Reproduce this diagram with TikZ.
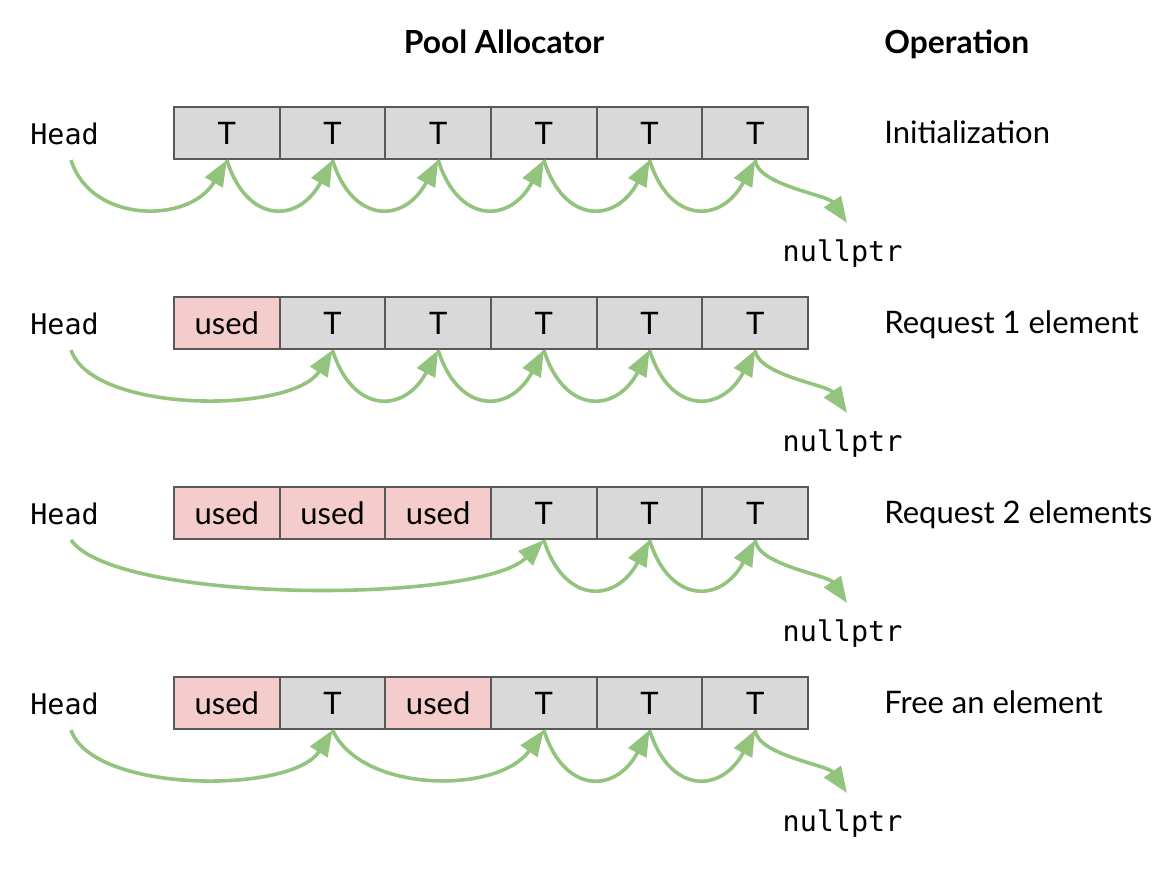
\documentclass[tikz,border=0pt]{standalone}
\usepackage{fontspec}
\setmainfont{Lato}
\newfontfamily\monofont{DejaVu Sans Mono}
\usetikzlibrary{arrows.meta}
\definecolor{arrowgreen}{HTML}{93C47D}
\definecolor{cellgray}{HTML}{D9D9D9}
\definecolor{cellpink}{HTML}{F4CCCC}
\definecolor{cellborder}{HTML}{595959}
\begin{document}
\begin{tikzpicture}[x=0.5pt,y=-0.5pt,
  cellbox/.style={draw=cellborder, line width=1pt, minimum width=52.835pt, minimum height=26pt, inner sep=0pt, text height=11.1pt, text depth=0pt, font=\fontsize{15.5pt}{18pt}\selectfont},
  cell0/.style={cellbox, fill=cellgray},
  cell1/.style={cellbox, fill=cellpink},
  monolabel/.style={inner sep=0pt, font=\monofont\fontsize{14.2pt}{17pt}\selectfont},
  oplabel/.style={inner sep=0pt, anchor=base west, font=\fontsize{15.5pt}{18pt}\selectfont},
  titlelabel/.style={inner sep=0pt, font=\bfseries\fontsize{15.9pt}{18pt}\selectfont},
  link/.style={draw=arrowgreen, line width=1.8pt, -{Triangle[length=13pt,width=10pt]}}
]
\useasboundingbox (0,0) rectangle (1176,869);

\node[titlelabel, anchor=base] (t1) at (504,53) {Pool Allocator};
\node[titlelabel, anchor=base west] (t2) at (884,53) {Operation};

\foreach \r/\pattern/\op in {0/{0,0,0,0,0,0}/Initialization,1/{1,0,0,0,0,0}/Request 1 element,2/{1,1,1,0,0,0}/Request 2 elements,3/{1,0,1,0,0,0}/Free an element}{
  \node[monolabel, anchor=base west] (h\r) at (30,{144+190*\r}) {Head};
  \coordinate (hs\r) at (71,{160+190*\r});
  \foreach \u [count=\i] in \pattern {
    \node[cell\u] (c\r\i) at ({174+105.67*(\i-0.5)},{133+190*\r}) {\ifnum\u=1 used\else T\fi};
  }
  \node[oplabel] (op\r) at (884,{143.5+190*\r}) {\op};
  \node[monolabel, anchor=base] (np\r) at (842.5,{261.7+190*\r}) {nullptr};
  \coordinate (nt\r) at (847,{223+190*\r});
  \draw[link] (c\r6.south) .. controls +(2,25) and +(-19,-28) .. (nt\r);
}

% row 0
\draw[link] (hs0) .. controls +(20,64) and +(-37,64) .. (c01.south);
\foreach \a/\b in {1/2,2/3,3/4,4/5,5/6}
  \draw[link] (c0\a.south) .. controls +(20,64) and +(-34,64) .. (c0\b.south);

% row 1
\draw[link] (hs1) .. controls +(22,64) and +(-40,64) .. (c12.south);
\foreach \a/\b in {2/3,3/4,4/5,5/6}
  \draw[link] (c1\a.south) .. controls +(20,64) and +(-34,64) .. (c1\b.south);

% row 2
\draw[link] (hs2) .. controls +(45,64) and +(-64,64) .. (c24.south);
\foreach \a/\b in {4/5,5/6}
  \draw[link] (c2\a.south) .. controls +(20,64) and +(-34,64) .. (c2\b.south);

% row 3
\draw[link] (hs3) .. controls +(22,64) and +(-40,64) .. (c32.south);
\draw[link] (c32.south) .. controls +(30,64) and +(-45,64) .. (c34.south);
\foreach \a/\b in {4/5,5/6}
  \draw[link] (c3\a.south) .. controls +(20,64) and +(-34,64) .. (c3\b.south);
\end{tikzpicture}
\end{document}
